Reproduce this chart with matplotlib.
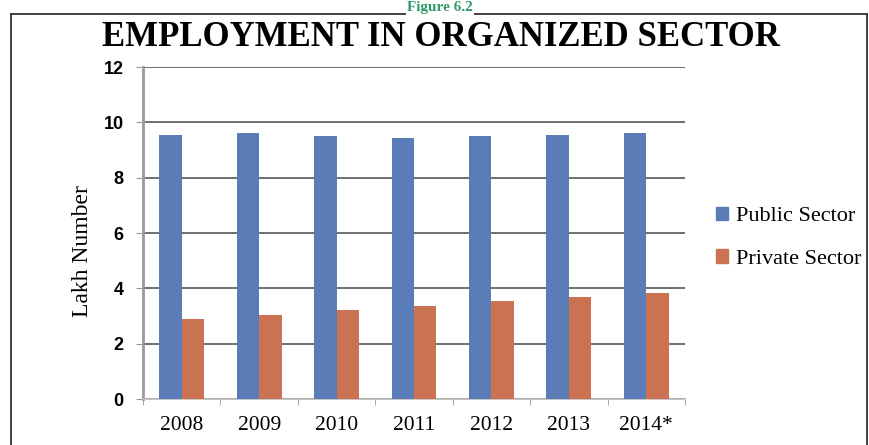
import matplotlib
matplotlib.use("Agg")
import matplotlib.pyplot as plt
import numpy as np
from matplotlib.patches import Rectangle
from matplotlib.lines import Line2D

years = ["2008", "2009", "2010", "2011", "2012", "2013", "2014*"]
public_sector = [9.56, 9.62, 9.50, 9.45, 9.50, 9.54, 9.60]
private_sector = [2.88, 3.04, 3.22, 3.37, 3.54, 3.67, 3.84]
series_names = ["Public Sector", "Private Sector"]
yticks = [0, 2, 4, 6, 8, 10, 12]

blue = "#5B7DB7"
orange = "#CB7252"
serif = "Liberation Serif"

fig = plt.figure(figsize=(8.7, 4.45), dpi=100)
ax = fig.add_axes([143 / 870, 1 - 399 / 445, 542 / 870, 332 / 445])

x = np.arange(len(years))
w = 0.29
ax.bar(x - w / 2, public_sector, width=w, color=blue, label=series_names[0], zorder=3)
ax.bar(x + w / 2, private_sector, width=w, color=orange, label=series_names[1], zorder=3)

ax.set_xlim(-0.5, len(years) - 0.5)
ax.set_ylim(0, 12)
ax.set_yticks(yticks)
ax.set_yticklabels([str(v) for v in yticks], family="Liberation Sans", fontsize=13, fontweight="bold")
ax.yaxis.grid(True, color="#6f6f6f", linewidth=1.4, zorder=0)
ax.set_axisbelow(True)

ax.set_xticks(x)
ax.set_xticklabels(years, family=serif, fontsize=15.5)
ax.tick_params(axis="x", length=0, pad=12)
ax.set_xticks(np.arange(-0.5, len(years)), minor=True)
ax.tick_params(axis="x", which="minor", length=4, color="#999999", direction="out")
ax.tick_params(axis="y", length=5, color="#999999", direction="out", pad=9)

for side in ["top", "right"]:
    ax.spines[side].set_visible(False)
ax.spines["left"].set_color("#9a9a9a")
ax.spines["left"].set_linewidth(2)
ax.spines["bottom"].set_color("#bbbbbb")
ax.spines["bottom"].set_linewidth(1.2)

ax.set_ylabel("Lakh Number", family=serif, fontsize=17)
ax.yaxis.set_label_coords((93 - 143) / 542, (399 - 251) / 332)

handles = [Rectangle((0, 0), 1, 1, color=blue), Rectangle((0, 0), 1, 1, color=orange)]
fig.legend(handles, series_names, loc="upper left", bbox_to_anchor=(700 / 870, 1 - 191 / 445),
           frameon=False, prop={"family": serif, "size": 16}, handlelength=0.55,
           handleheight=0.55, handletextpad=0.35, labelspacing=1.05, borderpad=0.2)

fig.text(441 / 870, 1 - 38 / 445, "EMPLOYMENT IN ORGANIZED SECTOR", family=serif,
         fontsize=25, fontweight="bold", ha="center", va="center")

# outer frame of the figure panel
frame = [Line2D([11 / 870, 11 / 870], [0, 1 - 14 / 445]),
         Line2D([11 / 870, 867 / 870], [1 - 14 / 445, 1 - 14 / 445]),
         Line2D([867 / 870, 867 / 870], [0, 1 - 14 / 445])]
for ln in frame:
    ln.set_transform(fig.transFigure)
    ln.set_color("#333333")
    ln.set_linewidth(1.3)
    fig.add_artist(ln)

fig.text(440 / 870, 1 - 7.5 / 445, "Figure 6.2", family=serif, fontsize=11, fontweight="bold",
         color="#2f9a6a", ha="center", va="center",
         bbox=dict(facecolor="white", edgecolor="none", pad=0.5))

fig.savefig("out.png", dpi=100, facecolor="white")
